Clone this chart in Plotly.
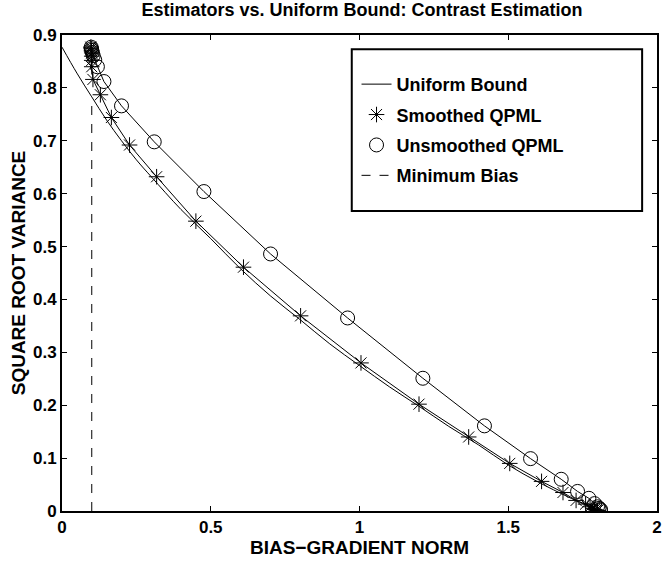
import plotly.graph_objects as go

# Uniform bound curve
bound_x = [0, 0.05, 0.1, 0.15, 0.2, 0.25, 0.3, 0.4, 0.5, 0.6, 0.7, 0.8, 0.9, 1.0,
           1.1, 1.2, 1.3, 1.4, 1.5, 1.6, 1.7, 1.75, 1.8]
bound_y = [0.877, 0.828, 0.783, 0.739, 0.700, 0.664, 0.632, 0.570, 0.515, 0.458,
           0.407, 0.362, 0.316, 0.275, 0.235, 0.198, 0.160, 0.125, 0.087, 0.055,
           0.027, 0.014, 0.002]

# Smoothed QPML
smooth_x = [0.097, 0.098, 0.099, 0.100, 0.100, 0.100, 0.100, 0.104, 0.129, 0.166,
            0.227, 0.318, 0.450, 0.610, 0.802, 1.005, 1.200, 1.367, 1.505, 1.612,
            1.684, 1.728, 1.760, 1.775, 1.785, 1.790, 1.795, 1.800]
smooth_y = [0.877, 0.874, 0.870, 0.866, 0.860, 0.852, 0.840, 0.816, 0.787, 0.744,
            0.692, 0.632, 0.548, 0.461, 0.369, 0.280, 0.202, 0.140, 0.090, 0.056,
            0.035, 0.020, 0.013, 0.008, 0.005, 0.003, 0.002, 0.001]

# Unsmoothed QPML
unsm_x = [0.098, 0.099, 0.100, 0.102, 0.105, 0.110, 0.119, 0.141, 0.200, 0.310,
          0.477, 0.701, 0.960, 1.213, 1.420, 1.575, 1.678, 1.733, 1.771, 1.790,
          1.800, 1.805, 1.810, 1.810]
unsm_y = [0.877, 0.874, 0.871, 0.867, 0.861, 0.853, 0.840, 0.812, 0.766, 0.698,
          0.604, 0.486, 0.365, 0.251, 0.161, 0.099, 0.060, 0.037, 0.024, 0.014,
          0.008, 0.005, 0.003, 0.001]

# Minimum bias
minbias_x = [0.1, 0.1]
minbias_y = [0.0, 0.78]

x_ticks = [0, 0.5, 1, 1.5, 2]
y_ticks = [0, 0.1, 0.2, 0.3, 0.4, 0.5, 0.6, 0.7, 0.8, 0.9]

FONT = "Arial, Liberation Sans"

def b(s):
    return "<b>" + s + "</b>"

fig = go.Figure()
fig.add_trace(go.Scatter(x=bound_x, y=bound_y, mode="lines", line=dict(color="black", width=1, shape="spline"),
                         name=b("Uniform Bound"), legendgroup="a"))
fig.add_trace(go.Scatter(x=smooth_x, y=smooth_y, mode="lines", line=dict(color="black", width=1),
                         showlegend=False, hoverinfo="skip"))
fig.add_trace(go.Scatter(x=smooth_x, y=smooth_y, mode="markers",
                         marker=dict(symbol="asterisk-open", size=13, color="black", line=dict(color="black", width=1)),
                         name=b("Smoothed QPML"), legendgroup="b"))
fig.add_trace(go.Scatter(x=unsm_x, y=unsm_y, mode="lines", line=dict(color="black", width=1),
                         showlegend=False, hoverinfo="skip"))
fig.add_trace(go.Scatter(x=unsm_x, y=unsm_y, mode="markers",
                         marker=dict(symbol="circle-open", size=14, color="black", line=dict(color="black", width=1)),
                         name=b("Unsmoothed QPML"), legendgroup="c"))
fig.add_trace(go.Scatter(x=minbias_x, y=minbias_y, mode="lines", line=dict(color="black", width=1, dash="dash"),
                         name=b("Minimum Bias"), legendgroup="d"))

axis_common = dict(showgrid=False, zeroline=False, showline=True, linecolor="black", linewidth=2,
                   mirror="ticks", ticks="inside", ticklen=5, tickwidth=1, tickcolor="black",
                   tickfont=dict(family=FONT, size=17, color="black", weight="bold"))

fig.update_layout(
    width=667, height=563,
    margin=dict(l=62, r=5, t=35, b=52),
    paper_bgcolor="white", plot_bgcolor="white",
    title=dict(text=b("Estimators vs. Uniform Bound: Contrast Estimation"),
               x=0.5427, xanchor="center", y=0.982, yanchor="middle",
               font=dict(family=FONT, size=18, color="black")),
    xaxis=dict(range=[0, 2], tickvals=x_ticks, ticktext=[b(str(v)) for v in x_ticks],
               title=dict(text=b("BIAS\u2212GRADIENT NORM"), font=dict(family=FONT, size=19, color="black"), standoff=0),
               **axis_common),
    yaxis=dict(range=[0, 0.9], tickvals=y_ticks, ticktext=[b("0")] + [b(str(v)) for v in y_ticks[1:]],
               title=dict(text=b("SQUARE ROOT VARIANCE"), font=dict(family=FONT, size=19, color="black"), standoff=2),
               **axis_common),
    legend=dict(x=0.495, y=0.935, xanchor="left", yanchor="top", bgcolor="rgba(0,0,0,0)",
                borderwidth=0, tracegroupgap=4, traceorder="grouped",
                font=dict(family=FONT, size=18, color="black")),
    shapes=[dict(type="rect", xref="paper", yref="paper", x0=0.487, x1=0.975, y0=0.63, y1=0.97,
                 line=dict(color="black", width=2), fillcolor="white", layer="below")],
    showlegend=True,
)

fig.write_html("out.html")
